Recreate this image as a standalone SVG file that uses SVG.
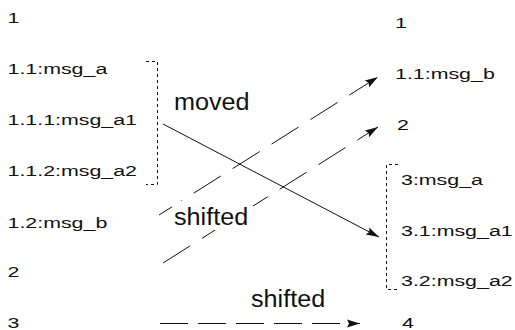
<svg xmlns="http://www.w3.org/2000/svg" width="515" height="330" viewBox="0 0 515 330">
<style>
text{font-family:"Liberation Sans",Arial,sans-serif;fill:#111}
.t{font-size:15.5px}
.lbl{font-size:24px}
.ln{fill:none;stroke:#111;stroke-width:1}
.dd{stroke-dasharray:32 14}
.br{fill:none;stroke:#111;stroke-width:1;stroke-dasharray:3 3}
</style>
<defs>
<marker id="ah" markerWidth="14" markerHeight="10" refX="13" refY="5" orient="auto" markerUnits="userSpaceOnUse">
<path d="M0,1 L13,5 L0,9 L2,5 z" fill="#111"/>
</marker>
</defs>
<rect width="515" height="330" fill="#fff"/>
<g id="connectors">
<path class="ln" d="M163,124 L379,237" marker-end="url(#ah)"/>
<path class="ln dd" stroke-dashoffset="5" d="M159,215 L378,77" marker-end="url(#ah)"/>
<path class="ln dd" d="M163,263 L378,127" marker-end="url(#ah)"/>
<path class="ln" stroke-dasharray="28 10" d="M160,323.5 L360,323.5" marker-end="url(#ah)"/>
</g>
<g id="left-bracket"><path class="br" d="M146,61.5 H157.5 V184.5 H146"/></g>
<g id="right-bracket"><path class="br" d="M398,164.5 H386.5 V289.5 H398"/></g>
<g id="label-moved"><text class="lbl" transform="matrix(1.05,0,0,1,174,110)">moved</text></g>
<g id="label-shifted-1"><rect x="172" y="201" width="81" height="29" fill="#fff"/><text class="lbl" transform="matrix(1.05,0,0,1,174,225)">shifted</text></g>
<g id="label-shifted-2"><text class="lbl" transform="matrix(1.05,0,0,1,251,307)">shifted</text></g>
<g id="left-1"><text class="t" transform="matrix(1.38,0,0,1,7.5,23)">1</text></g>
<g id="left-1-1"><text class="t" transform="matrix(1.38,0,0,1,7.5,74)">1.1:msg_a</text></g>
<g id="left-1-1-1"><text class="t" transform="matrix(1.38,0,0,1,7.5,125)">1.1.1:msg_a1</text></g>
<g id="left-1-1-2"><text class="t" transform="matrix(1.38,0,0,1,7.5,176)">1.1.2:msg_a2</text></g>
<g id="left-1-2"><text class="t" transform="matrix(1.38,0,0,1,7.5,228)">1.2:msg_b</text></g>
<g id="left-2"><text class="t" transform="matrix(1.38,0,0,1,7.5,277)">2</text></g>
<g id="left-3"><text class="t" transform="matrix(1.38,0,0,1,7.5,328)">3</text></g>
<g id="right-1"><text class="t" transform="matrix(1.38,0,0,1,395,28)">1</text></g>
<g id="right-1-1"><text class="t" transform="matrix(1.38,0,0,1,395,79)">1.1:msg_b</text></g>
<g id="right-2"><text class="t" transform="matrix(1.38,0,0,1,397,130)">2</text></g>
<g id="right-3"><text class="t" transform="matrix(1.38,0,0,1,401,185)">3:msg_a</text></g>
<g id="right-3-1"><text class="t" transform="matrix(1.38,0,0,1,401,236)">3.1:msg_a1</text></g>
<g id="right-3-2"><text class="t" transform="matrix(1.38,0,0,1,401,286)">3.2:msg_a2</text></g>
<g id="right-4"><text class="t" transform="matrix(1.38,0,0,1,402,328)">4</text></g>
</svg>
